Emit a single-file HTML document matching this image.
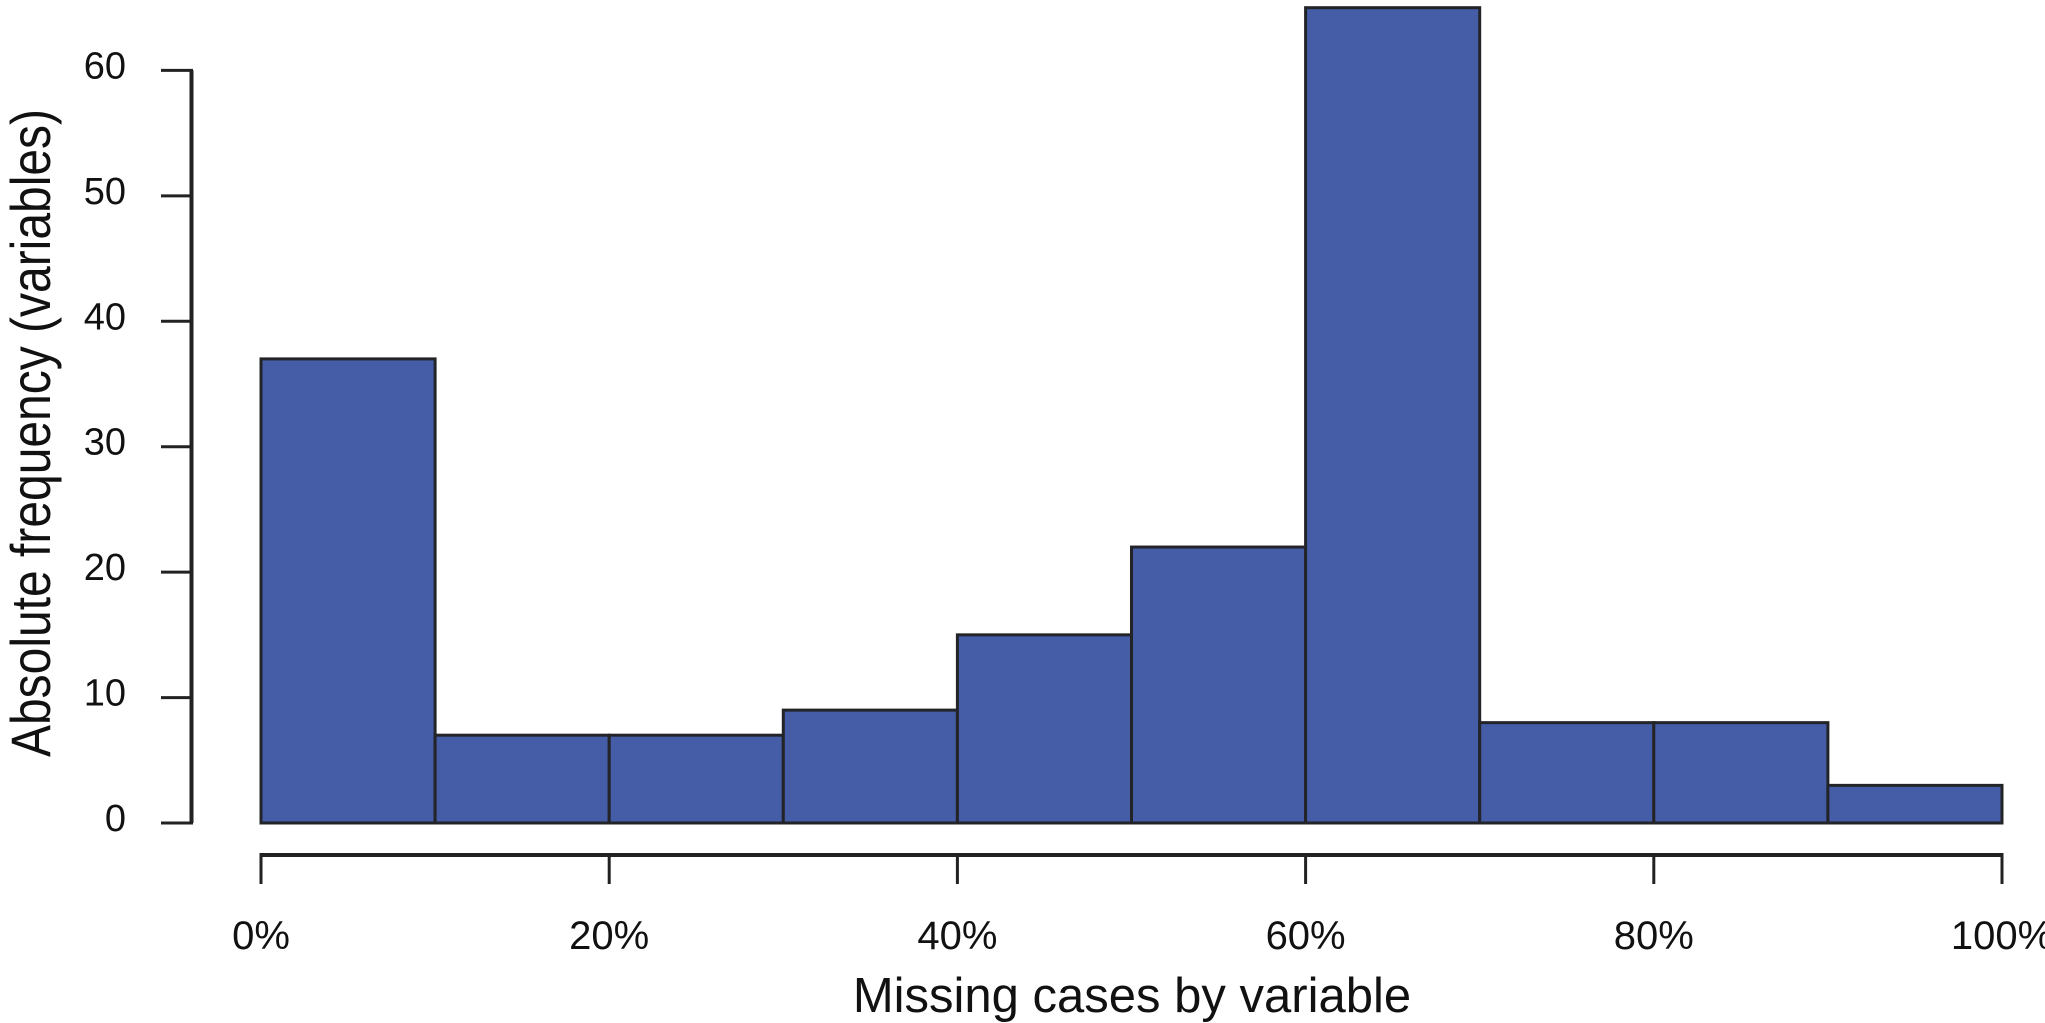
<!DOCTYPE html>
<html><head><meta charset="utf-8"><style>
html,body{margin:0;padding:0;background:#fff;}
svg{display:block;font-family:"Liberation Sans",Arial,sans-serif;}
</style></head><body>
<svg id="chart" width="2045" height="1023" viewBox="0 0 2045 1023" xmlns="http://www.w3.org/2000/svg">
<g id="bars"></g>
<g id="yaxis"></g>
<g id="xaxis"></g>
<text x="1132" y="1012" font-size="49" text-anchor="middle" fill="#111">Missing cases by variable</text>
<text transform="translate(50,433) rotate(-90)" font-size="56" text-anchor="middle" fill="#111" textLength="648" lengthAdjust="spacingAndGlyphs">Absolute frequency (variables)</text>
</svg>
<script>
const binEdges = [0,10,20,30,40,50,60,70,80,90,100];
const counts = [37,7,7,9,15,22,65,8,8,3];
const yTicks = [0,10,20,30,40,50,60];
const xTicks = [0,20,40,60,80,100];
const xTickLabels = ["0%","20%","40%","60%","80%","100%"];

const NS="http://www.w3.org/2000/svg";
const X0=261, X1=2002, Y0=823, Y60=70.4;
const xs=v=>X0+(v-0)*(X1-X0)/100;
const ys=v=>Y0-(v)*(Y0-Y60)/60;
function mk(tag,attrs,parent){const e=document.createElementNS(NS,tag);for(const k in attrs)e.setAttribute(k,attrs[k]);parent.appendChild(e);return e;}
const bars=document.getElementById('bars');
counts.forEach((c,i)=>{
  const x=xs(binEdges[i]), w=xs(binEdges[i+1])-x, y=ys(c);
  const r=mk('rect',{x:x,y:y,width:w,height:Y0-y,fill:'#455ca7',stroke:'#222428','stroke-width':3},bars);
  
  
});
const ya=document.getElementById('yaxis');
const yl=mk('line',{x1:191.5,x2:191.5,y1:ys(yTicks[0]),y2:ys(yTicks[yTicks.length-1]),stroke:'#222',"stroke-width":4},ya);


yTicks.forEach(t=>{
  const l=mk('line',{x1:161,x2:193,y1:ys(t),y2:ys(t),stroke:'#222','stroke-width':3},ya);
  
  
  const tx=mk('text',{x:126,y:ys(t)+8,'font-size':38,'text-anchor':'end',fill:'#111'},ya);
  tx.textContent=t;
  
  
});
const xa=document.getElementById('xaxis');
const xl=mk('line',{x1:xs(xTicks[0])-1.5,x2:xs(xTicks[xTicks.length-1])+1.5,y1:855,y2:855,stroke:'#222','stroke-width':4},xa);


xTicks.forEach((t,i)=>{
  const l=mk('line',{x1:xs(t),x2:xs(t),y1:853,y2:884,stroke:'#222','stroke-width':3},xa);
  
  
  const tx=mk('text',{x:xs(t),y:949,'font-size':40,'text-anchor':'middle',fill:'#111'},xa);
  tx.textContent=xTickLabels[i];
  
  
});
</script>
</body></html>
